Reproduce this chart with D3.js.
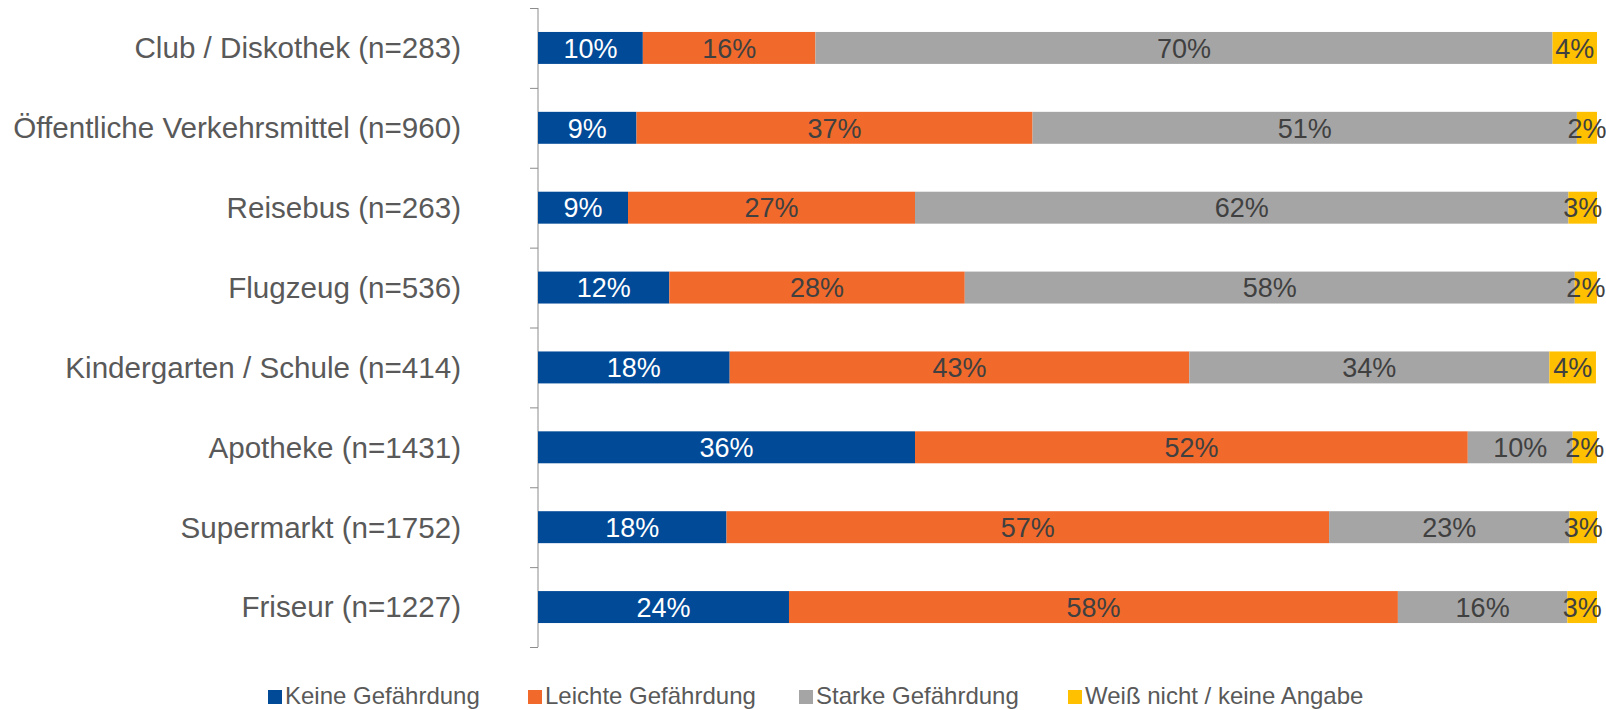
<!DOCTYPE html>
<html>
<head>
<meta charset="utf-8">
<script src="https://cdn.jsdelivr.net/npm/d3@7"></script>
<style>
  body { margin: 0; background: #fff; }
  text { font-family: "Liberation Sans", Arial, sans-serif; }
</style>
</head>
<body>
<div id="chart"></div>
<script>
// categories, top to bottom
const categories = [
    "Club / Diskothek (n=283)",
    "Öffentliche Verkehrsmittel (n=960)",
    "Reisebus (n=263)",
    "Flugzeug (n=536)",
    "Kindergarten / Schule (n=414)",
    "Apotheke (n=1431)",
    "Supermarkt (n=1752)",
    "Friseur (n=1227)"
];

const seriesNames = ["Keine Gefährdung", "Leichte Gefährdung", "Starke Gefährdung", "Weiß nicht / keine Angabe"];
const seriesColors = ["#004A98", "#F26A2B", "#A5A5A5", "#FFC000"];

// shares in percent
const keine    = [9.9, 9.3, 8.5, 12.4, 18.1, 35.6, 17.8, 23.7];
const leichte  = [16.3, 37.4, 27.1, 27.9, 43.4, 52.2, 56.9, 57.5];
const starke   = [69.6, 51.4, 61.7, 57.6, 34.0, 9.9, 22.7, 16.0];
const weissNicht = [4.2, 1.9, 2.7, 2.1, 4.4, 2.3, 2.6, 2.8];

const data = categories.map(function(c, i) {
    return {cat: c, s0: keine[i], s1: leichte[i], s2: starke[i], s3: weissNicht[i]};
});
const keys = ["s0", "s1", "s2", "s3"];

const margin = {top: 8, right: 9, bottom: 63, left: 538},
    width = 1606 - margin.left - margin.right,
    height = 710 - margin.top - margin.bottom;

const svg = d3.select("#chart")
    .append("svg")
    .attr("width", 1606)
    .attr("height", 710);

const g = svg.append("g")
    .attr("transform", "translate(" + margin.left + "," + margin.top + ")");

const x = d3.scaleLinear()
    .domain([0, 100])
    .range([0, width]);

const y = d3.scaleBand()
    .domain(categories)
    .range([0, height])
    .paddingInner(0.6)
    .paddingOuter(0.3);

// axis with ticks at the band boundaries
const yTicks = d3.scaleLinear()
    .domain([0, categories.length])
    .range([0, height]);
const axis = g.append("g")
    .call(d3.axisLeft(yTicks).tickValues(d3.range(categories.length + 1)).tickSize(8).tickFormat(""));
axis.select(".domain").attr("stroke", "#8c8c8c").attr("d", "M0,0V" + height);
axis.selectAll(".tick line").attr("stroke", "#8c8c8c");

// category labels
g.selectAll(".cat")
    .data(categories)
    .enter()
    .append("text")
    .attr("class", "cat")
    .attr("x", 461 - margin.left)
    .attr("y", function(d) { return y(d) + y.bandwidth() / 2; })
    .attr("dy", "0.35em")
    .attr("text-anchor", "end")
    .attr("fill", "#595959")
    .style("font-size", "29.6px")
    .text(function(d) { return d; });

const stacked = d3.stack().keys(keys)(data);

const layers = g.selectAll(".layer")
    .data(stacked)
    .enter()
    .append("g")
    .attr("class", "layer")
    .attr("fill", function(d, i) { return seriesColors[i]; });

layers.selectAll("rect")
    .data(function(d) { return d; })
    .enter()
    .append("rect")
    .attr("x", function(d) { return x(d[0]); })
    .attr("y", function(d) { return y(d.data.cat); })
    .attr("width", function(d) { return x(d[1]) - x(d[0]); })
    .attr("height", y.bandwidth());

layers.each(function(layer, li) {
    d3.select(this).selectAll("text")
        .data(layer)
        .enter()
        .append("text")
        .attr("x", function(d) { return (x(d[0]) + x(d[1])) / 2; })
        .attr("y", function(d) { return y(d.data.cat) + y.bandwidth() / 2; })
        .attr("dy", "0.36em")
        .attr("text-anchor", "middle")
        .attr("fill", li === 0 ? "#ffffff" : "#404040")
        .style("font-size", "27px")
        .text(function(d) { return Math.round(d[1] - d[0]) + "%"; });
});

// legend
const legendX = [268, 528, 799, 1068];
const legend = svg.append("g");
seriesNames.forEach(function(name, i) {
    legend.append("rect")
        .attr("x", legendX[i])
        .attr("y", 690)
        .attr("width", 14)
        .attr("height", 14)
        .attr("fill", seriesColors[i]);
    legend.append("text")
        .attr("x", legendX[i] + 17)
        .attr("y", 704)
        .attr("fill", "#595959")
        .style("font-size", "24px")
        .text(name);
});
</script>
</body>
</html>
